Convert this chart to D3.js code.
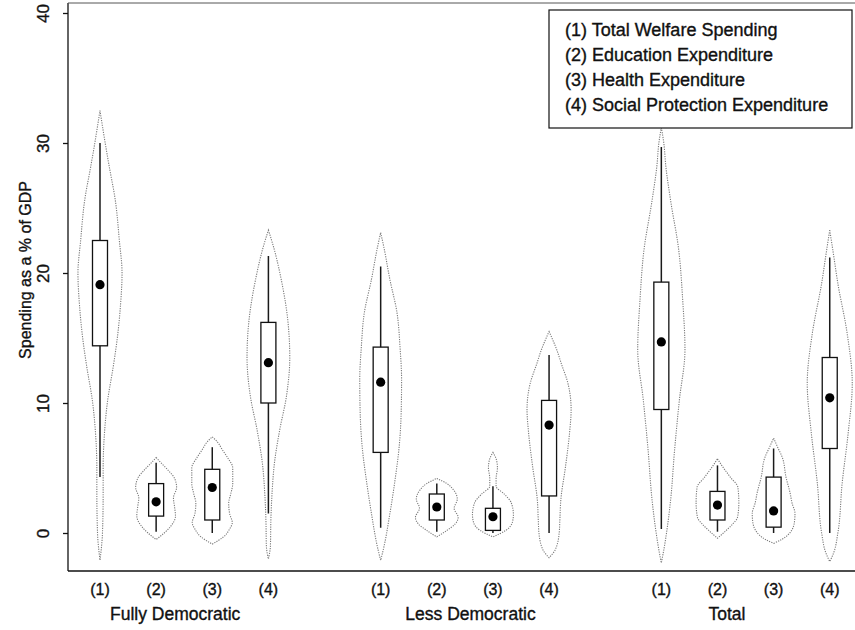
<!DOCTYPE html>
<html>
<head>
<meta charset="utf-8">
<script src="https://cdn.jsdelivr.net/npm/d3@7"></script>
<style>
  body { margin: 0; background: #fff; }
  svg { display: block; font-family: "Liberation Sans", Arial, sans-serif; }
  svg text { stroke: #111; stroke-width: 0.35px; }
</style>
</head>
<body>
<svg id="chart" width="855" height="630"></svg>
<script>
// categories
const groups = ["Fully Democratic", "Less Democratic", "Total"];
const measures = ["(1)", "(2)", "(3)", "(4)"];
const legendLabels = [
  "(1) Total Welfare Spending",
  "(2) Education Expenditure",
  "(3) Health Expenditure",
  "(4) Social Protection Expenditure"
];
const yTicks = [0, 10, 20, 30, 40];

// box plot stats, order: FD (1..4), LD (1..4), Total (1..4)
const whiskerLow  = [4.3, 0.1, 0.0, 1.5,   0.4, 0.1, 0.0, 0.0,   0.3, 0.1, 0.0, 0.0];
const quart1      = [14.4, 1.3, 1.0, 10.0, 6.2, 1.0, 0.2, 2.85,  9.5, 1.0, 0.45, 6.5];
const medians     = [19.1, 2.4, 3.5, 13.1, 11.6, 2.0, 1.25, 8.3, 14.7, 2.15, 1.7, 10.4];
const quart3      = [22.5, 3.8, 4.9, 16.2, 14.3, 3.0, 1.9, 10.2, 19.3, 3.2, 4.3, 13.5];
const whiskerHigh = [30.0, 5.4, 6.6, 21.3, 20.5, 3.8, 3.6, 13.7, 29.7, 5.2, 6.5, 21.2];

// violin outlines: [value, relative density]
const densities = [
  [[-2.1,0],[0,.11],[3,.14],[5,.14],[7.7,.2],[10.2,.34],[12.8,.59],[15,.77],[17.5,.91],[20,.98],[22.5,.86],[25.6,.68],[28.2,.41],[30,.23],[32.5,0]],
  [[-0.5,0],[0,.36],[0.5,.64],[1.3,.86],[2,.82],[2.7,.77],[3.5,.91],[4.2,.82],[4.8,.55],[5.3,.27],[5.8,0]],
  [[-0.85,0],[-0.3,.5],[0.3,.77],[0.8,.89],[1.5,.77],[2.3,.73],[3,.82],[3.8,.91],[5,.91],[5.8,.68],[6.4,.45],[7,.23],[7.4,0]],
  [[-2,0],[-1,.09],[1,.11],[3,.16],[5.4,.27],[7.9,.5],[10.5,.8],[13.5,.95],[16.4,.86],[19.5,.57],[22,.23],[23.3,0]],
  [[-2.1,0],[-1.1,.14],[1.5,.41],[4.1,.64],[6.6,.82],[9.2,.91],[11.8,.93],[14.3,.86],[16.9,.73],[19.5,.41],[22,.14],[23.1,0]],
  [[-0.3,0],[0.2,.45],[0.7,.82],[1.2,.95],[1.9,.77],[2.6,.91],[3.3,.75],[3.8,.45],[4.2,0]],
  [[-0.3,0],[0.2,.57],[0.8,.86],[1.4,.91],[2.3,.82],[3,.5],[3.6,.14],[4.2,.14],[5,.2],[5.6,.16],[6.2,0]],
  [[-1.9,0],[-1.3,.27],[0,.45],[1,.48],[2.5,.52],[5.1,.73],[7.7,.91],[9.5,.98],[11.5,.84],[13,.55],[14.1,.34],[15.5,0]],
  [[-2.3,0],[-1,.14],[0,.23],[2.5,.41],[6.4,.59],[10.2,.8],[14.1,1.05],[17.9,.95],[21.8,.77],[25.6,.41],[28.2,.2],[30,.11],[31.2,0]],
  [[-0.4,0],[0.2,.39],[0.7,.68],[1.2,.89],[2.3,.95],[3.5,.91],[4.3,.57],[5,.27],[5.7,0]],
  [[-0.8,0],[-0.5,.36],[0.2,.8],[0.9,.93],[1.5,.95],[2.3,.82],[3.1,.73],[4.3,.55],[5.8,.39],[6.6,.18],[7.3,0]],
  [[-2.2,0],[-1.5,.18],[0,.36],[3.8,.55],[7.7,.82],[11.5,1],[15.4,.77],[19.2,.36],[21.5,.16],[23.3,0]]
];

// layout
const W = 855, H = 630;
const plot = { left: 68, right: 855, top: 3, bottom: 571 };
const groupLabelShift = [-0.16, 0.1, -0.33]; // labels are not quite centred in the original
const font = "\"Liberation Sans\", Arial, sans-serif";

const svg = d3.select("#chart");
svg.append("rect").attr("width", W).attr("height", H).attr("fill", "#fff");

// slot index: groups separated by one empty slot
const slot = (g, m) => g * (measures.length + 1) + m + 1;

const x = d3.scaleLinear().domain([0.43, 14.45]).range([plot.left, plot.right]);
const y = d3.scaleLinear().domain([0, 40]).range([533, 13]);
const w = d3.scaleLinear().domain([0, 1]).range([0, 22.5]);

const violins = [];
groups.forEach((g, gi) => measures.forEach((m, mi) => {
  const k = gi * measures.length + mi;
  violins.push({
    pos: slot(gi, mi),
    lo: whiskerLow[k], q1: quart1[k], med: medians[k], q3: quart3[k], hi: whiskerHigh[k],
    dens: densities[k].slice().sort((a, b) => b[0] - a[0])
  });
}));

// violin outlines
const area = d3.area()
  .curve(d3.curveMonotoneY)
  .y(d => y(d[0]));

const gV = svg.append("g");
violins.forEach(v => {
  const cx = x(v.pos);
  gV.append("path")
    .datum(v.dens)
    .attr("d", area.x0(d => cx - w(d[1])).x1(d => cx + w(d[1])))
    .attr("fill", "none")
    .attr("stroke", "#7a7a7a")
    .attr("stroke-width", 1.1)
    .attr("stroke-dasharray", "1.2,1.2");
});

// whiskers, boxes, medians
const gB = svg.append("g").selectAll("g").data(violins).join("g")
  .attr("transform", d => `translate(${x(d.pos)},0)`);

gB.append("line")
  .attr("y1", d => y(d.lo)).attr("y2", d => y(d.hi))
  .attr("stroke", "#1a1a1a").attr("stroke-width", 1.5);

gB.append("rect")
  .attr("x", -7.5).attr("width", 15)
  .attr("y", d => y(d.q3)).attr("height", d => y(d.q1) - y(d.q3))
  .attr("fill", "#fff").attr("stroke", "#111").attr("stroke-width", 1.3);

gB.append("circle")
  .attr("cy", d => y(d.med)).attr("r", 4.6)
  .attr("fill", "#000");

// frame
const frame = svg.append("g").attr("stroke", "#111").attr("stroke-width", 1.3);
frame.append("line").attr("x1", plot.left).attr("x2", plot.left).attr("y1", plot.top).attr("y2", plot.bottom);
frame.append("line").attr("x1", plot.left).attr("x2", plot.right).attr("y1", plot.bottom).attr("y2", plot.bottom);
frame.append("line").attr("x1", plot.left).attr("x2", plot.right).attr("y1", plot.top).attr("y2", plot.top)
  .attr("stroke", "#555").attr("stroke-width", 1);

// y axis, rotated labels
const yAxis = svg.append("g")
  .attr("transform", `translate(${plot.left},0)`)
  .call(d3.axisLeft(y).tickValues(yTicks).tickSize(5).tickPadding(0));
yAxis.select(".domain").remove();
yAxis.selectAll(".tick line").attr("stroke", "#111").attr("stroke-width", 1.3);
yAxis.selectAll(".tick text")
  .attr("transform", "rotate(-90)")
  .attr("x", 0).attr("y", -19).attr("dy", 0)
  .attr("text-anchor", "middle")
  .attr("font-family", font).attr("font-size", 17).attr("fill", "#111");

svg.append("text")
  .attr("transform", "translate(31,270) rotate(-90)")
  .attr("text-anchor", "middle")
  .attr("font-size", 16).attr("fill", "#111")
  .text("Spending as a % of GDP");

// x labels
svg.append("g").selectAll("text").data(violins).join("text")
  .attr("x", (d, i) => x(d.pos))
  .attr("y", 595)
  .attr("text-anchor", "middle")
  .attr("font-size", 16).attr("fill", "#111")
  .text((d, i) => measures[i % measures.length]);

svg.append("g").selectAll("text").data(groups).join("text")
  .attr("x", (d, i) => x(slot(i, 1.5) + groupLabelShift[i]))
  .attr("y", 620)
  .attr("text-anchor", "middle")
  .attr("font-size", 17.5).attr("fill", "#111")
  .text(d => d);

// legend
const lg = svg.append("g");
lg.append("rect")
  .attr("x", 549).attr("y", 10).attr("width", 303).attr("height", 118)
  .attr("fill", "#fff").attr("stroke", "#111").attr("stroke-width", 1.2);
lg.selectAll("text").data(legendLabels).join("text")
  .attr("x", 565)
  .attr("y", (d, i) => 36 + i * 25)
  .attr("font-size", 18).attr("fill", "#111")
  .text(d => d);
</script>
</body>
</html>
